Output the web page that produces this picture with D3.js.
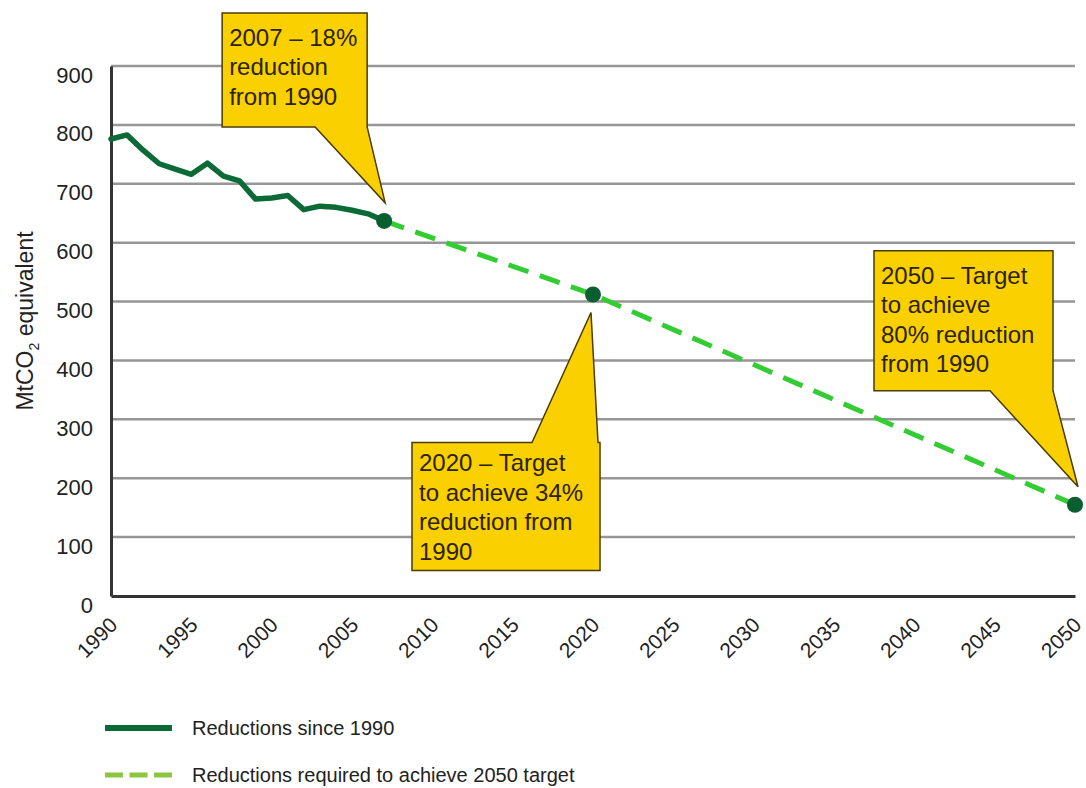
<!DOCTYPE html>
<html>
<head>
<meta charset="utf-8">
<script src="https://cdn.jsdelivr.net/npm/d3@7"></script>
<style>
  html, body { margin: 0; padding: 0; background: #ffffff; }
  svg { display: block; font-family: "Liberation Sans", Arial, Helvetica, sans-serif; }
</style>
</head>
<body>
<svg id="chart" width="1086" height="788"></svg>
<script>
// Emissions since 1990 (MtCO2 equivalent)
const historyYears  = [1990, 1991, 1992, 1993, 1994, 1995, 1996, 1997, 1998, 1999, 2000, 2001, 2002, 2003, 2004, 2005, 2006, 2007];
const historyValues = [776, 783, 757, 734, 725, 716, 735, 713, 705, 674, 676, 680, 656, 662, 660, 655, 649, 637];

// Pathway required to reach the 2050 target
const targetYears  = [2007, 2020, 2050];
const targetValues = [637, 512, 155];

// Tick labels
const xTicks = [1990, 1995, 2000, 2005, 2010, 2015, 2020, 2025, 2030, 2035, 2040, 2045, 2050];
const yTicks = [0, 100, 200, 300, 400, 500, 600, 700, 800, 900];

// Callout texts, one per milestone year
const calloutYears  = [2007, 2020, 2050];
const calloutValues = [637, 512, 155];
const calloutTexts  = [
  ["2007 \u2013 18%", "reduction", "from 1990"],
  ["2020 \u2013 Target", "to achieve 34%", "reduction from", "1990"],
  ["2050 \u2013 Target", "to achieve", "80% reduction", "from 1990"]
];

const legendLabels = ["Reductions since 1990", "Reductions required to achieve 2050 target"];
const yTitle = "MtCO";

// ---- layout ----
const margin = { left: 111, right: 11, top: 66, bottom: 192 };
const W = 1086, H = 788;
const svg = d3.select("#chart");

const x = d3.scaleLinear().domain([1990, 2050]).range([margin.left, W - margin.right]);
const y = d3.scaleLinear().domain([0, 900]).range([H - margin.bottom, margin.top]);

const COLORS = {
  grid: "#969696",
  axis: "#333333",
  history: "#0b6a36",
  dot: "#0a5f30",
  target: "#33cc33",
  legendTarget: "#8cc63f",
  callout: "#fbd000",
  calloutStroke: "#4a3c00",
  text: "#222222"
};

// gridlines
svg.append("g")
  .selectAll("line")
  .data(yTicks.filter(d => d > 0))
  .join("line")
  .attr("x1", x(1990)).attr("x2", x(2050))
  .attr("y1", d => y(d)).attr("y2", d => y(d))
  .attr("stroke", COLORS.grid)
  .attr("stroke-width", 2.5);

// y axis
const yAxis = svg.append("g")
  .attr("transform", `translate(${x(1990)},0)`)
  .call(d3.axisLeft(y).tickValues(yTicks).tickSize(0).tickPadding(18));
yAxis.select(".domain").attr("stroke", COLORS.axis).attr("stroke-width", 3);
yAxis.selectAll("text")
  .attr("font-size", 22)
  .attr("fill", COLORS.text)
  .attr("font-family", "Liberation Sans, Arial, sans-serif")
  .attr("transform", "translate(0,9)");

// x axis
const xAxis = svg.append("g")
  .attr("transform", `translate(0,${y(0)})`)
  .call(d3.axisBottom(x).tickValues(xTicks).tickFormat(d3.format("d")).tickSize(0));
xAxis.select(".domain").attr("stroke", COLORS.axis).attr("stroke-width", 3);
xAxis.selectAll("text")
  .attr("font-size", 21)
  .attr("fill", COLORS.text)
  .attr("font-family", "Liberation Sans, Arial, sans-serif")
  .attr("text-anchor", "end")
  .attr("dy", "0.35em")
  .attr("y", 0)
  .attr("transform", "translate(2,25) rotate(-45)");

// y title
const title = svg.append("text")
  .attr("transform", `translate(33,${(y(0) + y(900)) / 2 - 10}) rotate(-90)`)
  .attr("text-anchor", "middle")
  .attr("font-size", 23)
  .attr("fill", COLORS.text);
title.append("tspan").text(yTitle);
title.append("tspan").text("2").attr("font-size", 14).attr("dy", 6);
title.append("tspan").text(" equivalent").attr("dy", -6);

// callouts: box + pointer polygon, positioned relative to the point they mark
const calloutLayout = [
  { box: [-162, -208, -17, -94], tail: [-69, -17], tip: [1, -18], side: "bottom", first: 33 },
  { box: [-181, 148, 7, 276], tail: [-61, 5], tip: [-2, 18], side: "top", first: 29 },
  { box: [-201, -254, -22, -114], tail: [-85, -22], tip: [3, -18], side: "bottom", first: 33 }
];
const lineGap = 29.5;

const callouts = svg.append("g");
calloutYears.forEach((yr, i) => {
  const px = x(yr), py = y(calloutValues[i]);
  const L = calloutLayout[i];
  const [l, t, r, b] = [px + L.box[0], py + L.box[1], px + L.box[2], py + L.box[3]];
  const tipX = px + L.tip[0], tipY = py + L.tip[1];
  let pts;
  if (L.side === "bottom") {
    pts = [[l, t], [r, t], [r, b], [px + L.tail[1], b], [tipX, tipY], [px + L.tail[0], b], [l, b]];
  } else {
    pts = [[l, b], [l, t], [px + L.tail[0], t], [tipX, tipY], [px + L.tail[1], t], [r, t], [r, b]];
  }
  callouts.append("path")
    .attr("d", d3.line()(pts) + "Z")
    .attr("fill", COLORS.callout)
    .attr("stroke", COLORS.calloutStroke)
    .attr("stroke-width", 1.5)
    .attr("stroke-linejoin", "miter");
  const txt = callouts.append("text")
    .attr("font-size", 24)
    .attr("fill", "#2b2200");
  calloutTexts[i].forEach((line, j) => {
    txt.append("tspan")
      .attr("x", l + 7)
      .attr("y", t + L.first + j * lineGap)
      .text(line);
  });
});

// target pathway (dashed)
const lineGen = d3.line().x(d => x(d[0])).y(d => y(d[1]));
svg.append("path")
  .datum(d3.zip(targetYears, targetValues))
  .attr("d", lineGen)
  .attr("fill", "none")
  .attr("stroke", COLORS.target)
  .attr("stroke-width", 5)
  .attr("stroke-dasharray", "21 12");

// historical emissions
svg.append("path")
  .datum(d3.zip(historyYears, historyValues))
  .attr("d", lineGen)
  .attr("fill", "none")
  .attr("stroke", COLORS.history)
  .attr("stroke-width", 5.5)
  .attr("stroke-linejoin", "round")
  .attr("stroke-linecap", "round");

// milestone dots
svg.append("g")
  .selectAll("circle")
  .data(d3.zip(calloutYears, calloutValues))
  .join("circle")
  .attr("cx", d => x(d[0]))
  .attr("cy", d => y(d[1]))
  .attr("r", 8)
  .attr("fill", COLORS.dot);

// legend
const legend = svg.append("g");
const legendY = [728, 775];
legend.append("line")
  .attr("x1", 105).attr("x2", 172).attr("y1", legendY[0]).attr("y2", legendY[0])
  .attr("stroke", COLORS.history).attr("stroke-width", 6);
legend.append("line")
  .attr("x1", 105).attr("x2", 172).attr("y1", legendY[1]).attr("y2", legendY[1])
  .attr("stroke", COLORS.legendTarget).attr("stroke-width", 5)
  .attr("stroke-dasharray", "18 6.5");
legend.selectAll("text")
  .data(legendLabels)
  .join("text")
  .attr("x", 192)
  .attr("y", (d, i) => legendY[i])
  .attr("dy", "0.35em")
  .attr("font-size", 20)
  .attr("fill", COLORS.text)
  .text(d => d);
</script>
</body>
</html>
